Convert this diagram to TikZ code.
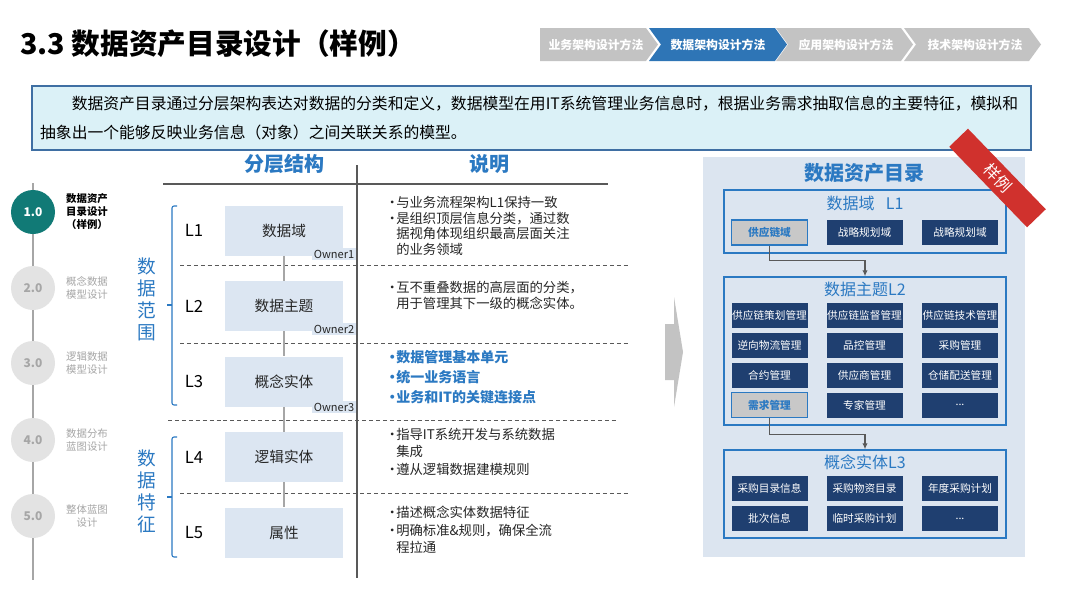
\documentclass[tikz,border=0pt]{standalone}
\usepackage{fontspec}
\setmainfont{Noto Sans CJK SC}
\usepackage{tikz}
\usetikzlibrary{arrows.meta,positioning}
\definecolor{damBlue}{HTML}{2B79C2}
\definecolor{damNavy}{HTML}{1F3F70}
\definecolor{damPanel}{HTML}{DCE5F0}
\definecolor{damLayer}{HTML}{DCE6F2}
\definecolor{damText}{HTML}{262626}
\definecolor{damRule}{HTML}{595959}
\definecolor{damGrey}{HTML}{C3C3C3}
\definecolor{damMute}{HTML}{A6A6A6}
\definecolor{damDisc}{HTML}{E3E3E3}
\definecolor{damTeal}{HTML}{117A76}
\definecolor{damCyan}{HTML}{DBF1F7}
\definecolor{damCyanEdge}{HTML}{3F6FA3}
\definecolor{damRed}{HTML}{D0312D}
\definecolor{damHot}{HTML}{C8C8C8}
\definecolor{damChevOn}{HTML}{2E75B6}
\tikzset{
  damlayer/.style={fill=damLayer,minimum width=88.5pt,minimum height=37.5pt,inner sep=0pt,
                   text=damText,font=\fontsize{11}{13}\selectfont},
  damlvl/.style={inner sep=0pt,text=black,font=\fontsize{12.5}{14}\selectfont},
  damowner/.style={fill=damLayer,inner sep=1pt,text=damText,font=\fontsize{8.3}{9}\selectfont},
  damnote/.style={anchor=north west,align=left,inner sep=0pt,text=damText,font=\fontsize{10}{11.8}\selectfont},
  damkey/.style={damnote,text=damBlue,font=\bfseries\fontsize{10.5}{15}\selectfont},
  damhead/.style={inner sep=0pt,text=damBlue,font=\bfseries\fontsize{15}{17}\selectfont},
  damside/.style={align=center,inner sep=0pt,text=damBlue,font=\fontsize{14}{16.5}\selectfont},
  damdisc/.style={circle,fill=damDisc,minimum size=33pt,inner sep=0pt,text=damMute,
                  font=\bfseries\fontsize{9}{10}\selectfont},
  damdiscon/.style={damdisc,fill=damTeal,text=white},
  damstep/.style={align=center,inner sep=0pt,text=damMute,font=\fontsize{7.8}{9.75}\selectfont},
  damstepon/.style={damstep,text=black,font=\bfseries\fontsize{7.8}{9.75}\selectfont},
  damframe/.style={draw=damBlue,line width=1.1pt,minimum width=211.5pt,inner sep=0pt},
  damsub/.style={inner sep=0pt,text=damBlue,font=\fontsize{12}{14}\selectfont},
  damitem/.style={fill=damNavy,minimum width=57pt,minimum height=18.75pt,inner sep=0pt,
                  text=white,font=\fontsize{8}{9}\selectfont},
  damhot/.style={damitem,fill=damHot,draw=damBlue,line width=0.8pt,text=damBlue,
                 font=\bfseries\fontsize{8}{9}\selectfont},
  damflow/.style={-{Latex[length=4.5pt,width=4pt]},draw=damRule,line width=0.8pt},
  damlink/.style={draw=damMute,line width=1.5pt},
  damsep/.style={draw=damRule,line width=0.6pt,dash pattern=on 3pt off 2.2pt},
  damrule/.style={draw=damRule,line width=0.9pt},
  dambrace/.style={draw=damBlue,line width=0.8pt,rounded corners=1.5pt},
  damchevtxt/.style={inner sep=0pt,text=white,font=\bfseries\fontsize{8.9}{10}\selectfont},
}
\newcommand\damblt{\makebox[6pt][c]{•}}
\newcommand\damind{\hspace*{6pt}}

\begin{document}
\begin{tikzpicture}[x=0.75pt,y=-0.75pt]
  \useasboundingbox[fill=white] (0,0) rectangle (1080,608);

  \node[anchor=west,inner sep=0pt,font=\bfseries\fontsize{21.5}{24}\selectfont] (title) at (20,44) {3.3 数据资产目录设计（样例）};

  % Method chevrons, top right.
  \fill[damGrey] (540,28) -- (646,28) -- (658,44.5) -- (646,61) -- (540,61) -- cycle;
  \fill[damChevOn] (649,28) -- (775,28) -- (787,44.5) -- (775,61) -- (649,61) -- (661,44.5) -- cycle;
  \fill[damGrey] (776,28) -- (901,28) -- (913,44.5) -- (901,61) -- (776,61) -- (788,44.5) -- cycle;
  \fill[damGrey] (904,28) -- (1029,28) -- (1041,44.5) -- (1029,61) -- (904,61) -- (916,44.5) -- cycle;
  \node[damchevtxt] (m1) at (596,45) {业务架构设计方法};
  \node[damchevtxt] (m2) at (718,45) {数据架构设计方法};
  \node[damchevtxt] (m3) at (846,45) {应用架构设计方法};
  \node[damchevtxt] (m4) at (975,45) {技术架构设计方法};

  \node[fill=damCyan,draw=damCyanEdge,line width=0.8pt,minimum width=749.25pt,minimum height=48pt,
        text width=737pt,align=left,inner sep=6pt,font=\fontsize{11.85}{21.75}\selectfont] (intro) at (531.5,118)
    {\hspace*{2em}数据资产目录通过分层架构表达对数据的分类和定义，数据模型在用IT系统管理业务信息时，根据业务需求抽取信息的主要特征，模拟和\\抽象出一个能够反映业务信息（对象）之间关联关系的模型。};

  % Step track on the left.
  \coordinate (tltop) at (33,183);
  \coordinate (tlbot) at (33,580);
  \draw[damlink] (tltop) -- (tlbot);
  \node[damdiscon] (c1) at (33,212) {1.0};
  \node[damdisc] (c2) at (33,288) {2.0};
  \node[damdisc] (c3) at (33,363) {3.0};
  \node[damdisc] (c4) at (33,440) {4.0};
  \node[damdisc] (c5) at (33,516) {5.0};
  \node[damstepon,right=8pt of c1] (s1) {数据资产\\目录设计\\（样例）};
  \node[damstep,right=8pt of c2] (s2) {概念数据\\模型设计};
  \node[damstep,right=8pt of c3] (s3) {逻辑数据\\模型设计};
  \node[damstep,right=8pt of c4] (s4) {数据分布\\蓝图设计};
  \node[damstep,right=8pt of c5] (s5) {整体蓝图\\设计};

  % Layer table.
  \node[damhead] (h1) at (284,164) {分层结构};
  \node[damhead] (h2) at (489,164) {说明};
  \draw[damrule] (163,184) -- (608,184);
  \draw[damrule] (357,165) -- (357,578);
  \draw[damsep] (180,265) -- (630,265);
  \draw[damsep] (180,343) -- (630,343);
  \draw[damsep] (168,420) -- (618,420);
  \draw[damsep] (180,493) -- (630,493);

  \node[damlayer] (d1) at (284,230.5) {数据域};
  \node[damlayer] (d2) at (284,306) {数据主题};
  \node[damlayer] (d3) at (284,381.5) {概念实体};
  \node[damlayer] (d4) at (284,457) {逻辑实体};
  \node[damlayer] (d5) at (284,532.5) {属性};
  \draw[damlink] (d1) -- (d2);
  \draw[damlink] (d2) -- (d3);
  \draw[damlink] (d3) -- (d4);
  \draw[damlink] (d4) -- (d5);
  \node[damowner] (o1) at (334,254) {Owner1};
  \node[damowner] (o2) at (334,329) {Owner2};
  \node[damowner] (o3) at (334,407) {Owner3};

  \node[damlvl,left=16pt of d1] (l1) {L1};
  \node[damlvl,left=16pt of d2] (l2) {L2};
  \node[damlvl,left=16pt of d3] (l3) {L3};
  \node[damlvl,left=16pt of d4] (l4) {L4};
  \node[damlvl,left=16pt of d5] (l5) {L5};

  \draw[dambrace] (177,206) -- (172,206) -- (172,405) -- (177,405);
  \draw[damBlue,line width=0.8pt] (172,305) -- (167,305);
  \draw[dambrace] (177,437) -- (172,437) -- (172,557) -- (177,557);
  \draw[damBlue,line width=0.8pt] (172,497) -- (167,497);
  \node[damside] (scope) at (147,299) {数\\据\\范\\围};
  \node[damside] (trait) at (147,491) {数\\据\\特\\征};

  \node[damnote] (n1) at (388,196) {\damblt 与业务流程架构L1保持一致\\\damblt 是组织顶层信息分类，通过数\\\damind 据视角体现组织最高层面关注\\\damind 的业务领域};
  \node[damnote] (n2) at (388,281) {\damblt 互不重叠数据的高层面的分类，\\\damind 用于管理其下一级的概念实体。};
  \node[damkey] (n3) at (388,350) {\damblt 数据管理基本单元\\\damblt 统一业务语言\\\damblt 业务和IT的关键连接点};
  \node[damnote,font=\fontsize{10}{13}\selectfont] (n4) at (388,428) {\damblt 指导IT系统开发与系统数据\\\damind 集成\\\damblt 遵从逻辑数据建模规则};
  \node[damnote,font=\fontsize{10}{13}\selectfont] (n5) at (388,506) {\damblt 描述概念实体数据特征\\\damblt 明确标准\&规则，确保全流\\\damind 程拉通};

  \fill[damGrey] (665,324) -- (674,324) -- (674,297) -- (683,352) -- (674,407) -- (674,380) -- (665,380) -- cycle;

  % Catalogue panel on the right.
  \node[fill=damPanel,minimum width=241.5pt,minimum height=300pt,inner sep=0pt] (panel) at (864,357) {};
  \node[damhead] (ptitle) at (864,173) {数据资产目录};

  \node[damframe,minimum height=47.25pt] (f1) at (865,221.5) {};
  \node[damsub,below=5pt of f1.north] (f1t) {数据域\hspace{0.7em}L1};
  \node[damhot] (sc) at (769.5,232.5) {供应链域};
  \node[damitem] (zl1) at (864.5,232.5) {战略规划域};
  \node[damitem] (zl2) at (960,232.5) {战略规划域};

  \node[damframe,minimum height=111pt] (f2) at (865,351) {};
  \node[damsub,below=4pt of f2.north] (f2t) {数据主题L2};
  \node[damitem] (t11) at (769.5,315) {供应链策划管理};
  \node[damitem] (t12) at (864.5,315) {供应链监督管理};
  \node[damitem] (t13) at (960,315) {供应链技术管理};
  \node[damitem] (t21) at (769.5,345) {逆向物流管理};
  \node[damitem] (t22) at (864.5,345) {品控管理};
  \node[damitem] (t23) at (960,345) {采购管理};
  \node[damitem] (t31) at (769.5,375) {合约管理};
  \node[damitem] (t32) at (864.5,375) {供应商管理};
  \node[damitem] (t33) at (960,375) {仓储配送管理};
  \node[damhot] (xq) at (769.5,405) {需求管理};
  \node[damitem] (t42) at (864.5,405) {专家管理};
  \node[damitem] (t43) at (960,405) {...};

  \node[damframe,minimum height=66pt] (f3) at (865,494) {};
  \node[damsub,below=4pt of f3.north] (f3t) {概念实体L3};
  \node[damitem] (e11) at (769.5,488.5) {采购目录信息};
  \node[damitem] (e12) at (864.5,488.5) {采购物资目录};
  \node[damitem] (e13) at (960,488.5) {年度采购计划};
  \node[damitem] (e21) at (769.5,518.5) {批次信息};
  \node[damitem] (e22) at (864.5,518.5) {临时采购计划};
  \node[damitem] (e23) at (960,518.5) {...};

  \draw[damflow] (sc.south) -- ++(0,15) -| (f2.north);
  \draw[damflow] (xq.south) -- ++(0,16.5) -| (f3.north);

  \node[fill=damRed,rotate=-46,minimum width=84pt,minimum height=19.5pt,inner sep=0pt,
        text=white,font=\fontsize{12}{13}\selectfont] (sample) at (997.5,178) {样例};
\end{tikzpicture}
\end{document}
